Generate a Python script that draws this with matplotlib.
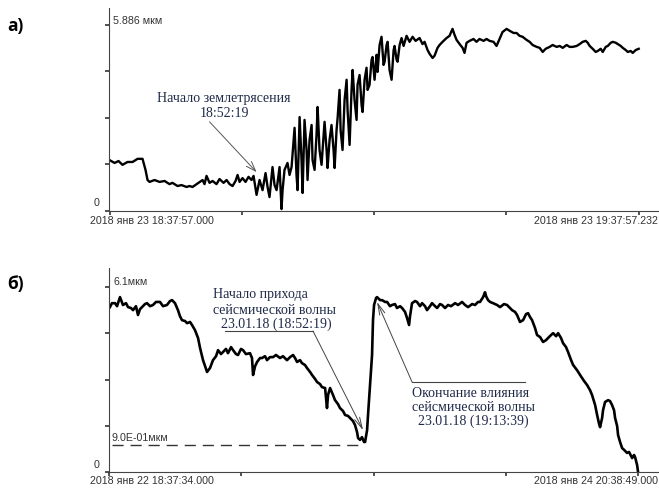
import matplotlib
matplotlib.use("Agg")
import matplotlib.pyplot as plt

plt.rcParams['font.family'] = ['Liberation Sans', 'DejaVu Sans']

# panel a: minutes from 2018-01-23 18:37:57, amplitude in mkm
t_a = [0.00, 0.57, 1.02, 1.47, 2.04, 2.61, 3.18, 3.74, 4.08, 4.31, 4.54, 5.10, 5.67, 6.24, 6.80,
       7.14, 7.71, 8.16, 8.73, 9.07, 9.41, 9.87, 10.21, 10.55, 10.77, 11.00, 11.34, 11.68, 12.13,
       12.47, 12.93, 13.27, 13.61, 13.95, 14.29, 14.52, 14.74, 15.08, 15.42, 15.76, 16.10, 16.33,
       16.67, 17.01, 17.35, 17.69, 17.92, 18.14, 18.48, 18.71, 18.94, 19.28, 19.50, 19.62, 19.84,
       20.18, 20.41, 20.64, 20.98, 21.20, 21.32, 21.55, 21.77, 21.89, 22.11, 22.34, 22.45, 22.68,
       22.91, 23.02, 23.25, 23.47, 23.59, 23.81, 24.04, 24.27, 24.38, 24.61, 24.72, 24.95, 25.17,
       25.40, 25.52, 25.74, 25.86, 26.08, 26.20, 26.42, 26.65, 26.88, 26.99, 27.22, 27.44, 27.56,
       27.78, 28.01, 28.12, 28.35, 28.58, 28.69, 28.92, 29.14, 29.26, 29.48, 29.71, 29.82, 30.05,
       30.28, 30.39, 30.62, 30.84, 31.07, 31.19, 31.41, 31.53, 31.75, 31.98, 32.21, 32.32, 32.55,
       32.66, 32.89, 33.11, 33.34, 33.68, 34.02, 34.36, 34.70, 35.15, 35.49, 35.72, 36.06, 36.29,
       36.63, 36.85, 37.19, 37.42, 37.76, 38.21, 38.55, 38.89, 39.12, 39.35, 39.69, 40.03, 40.25,
       40.48, 40.82, 41.27, 41.61, 41.95, 42.41, 42.75, 43.09, 43.54, 43.88, 44.22, 44.56, 45.02,
       45.36, 45.81, 46.15, 46.49, 46.83, 47.29, 47.63, 47.97, 48.43, 48.77, 49.11, 49.45, 49.90,
       50.24, 50.70, 51.04, 51.38, 51.83, 52.17, 52.51, 52.97, 53.31, 53.65, 53.99, 54.22, 54.44,
       54.78, 55.12, 55.35, 55.69, 55.92, 56.26, 56.49, 56.83, 57.06, 57.40, 57.62, 57.96, 58.19,
       58.53, 58.76, 59.09, 59.32, 59.66, 60.00]
v_a = [1.61, 1.52, 1.58, 1.46, 1.55, 1.55, 1.65, 1.65, 1.30, 0.98, 0.92, 0.98, 0.92, 0.95, 0.85,
       0.89, 0.79, 0.82, 0.76, 0.79, 0.76, 0.85, 0.92, 0.98, 0.85, 1.11, 0.89, 0.95, 0.85,
       1.01, 0.89, 0.98, 0.85, 0.79, 0.95, 1.14, 0.92, 1.04, 0.92, 1.08, 0.98, 1.11,
       0.51, 0.98, 0.66, 1.20, 0.76, 0.44, 1.39, 0.82, 0.66, 1.39, 0.06, 0.66, 1.30,
       1.52, 1.14, 1.39, 2.63, 1.14, 0.66, 2.97, 1.61, 0.57, 2.88, 1.93, 0.98, 2.25,
       2.72, 1.61, 1.30, 2.41, 3.29, 1.93, 1.46, 2.41, 2.82, 1.93, 1.36, 2.25, 2.72,
       1.93, 1.36, 2.56, 2.94, 3.83, 2.56, 1.93, 3.51, 4.15, 3.20, 2.09, 3.83, 4.46,
       3.51, 2.88, 3.99, 4.30, 3.35, 3.13, 4.15, 4.53, 3.83, 3.99, 4.78, 4.87, 4.15,
       4.94, 4.40, 5.25, 5.51, 4.62, 4.72, 5.25, 5.35, 4.46, 4.15, 5.09, 5.22, 4.78,
       4.72, 5.25, 5.47, 5.22, 5.54, 5.35, 5.51, 5.38, 5.47, 5.28, 5.35, 5.09, 4.97,
       4.84, 4.91, 5.16, 5.25, 5.35, 5.47, 5.54, 5.76, 5.57, 5.41, 5.28, 5.16, 5.00,
       5.32, 5.38, 5.44, 5.35, 5.44, 5.38, 5.44, 5.38, 5.35, 5.22, 5.44, 5.66, 5.76,
       5.70, 5.63, 5.63, 5.54, 5.51, 5.41, 5.35, 5.25, 5.19, 5.16, 5.03, 5.13, 5.19,
       5.25, 5.19, 5.22, 5.16, 5.25, 5.19, 5.19, 5.22, 5.28, 5.35, 5.38, 5.32, 5.22,
       5.13, 5.03, 5.06, 5.13, 5.03, 5.19, 5.22, 5.32, 5.35, 5.32, 5.28, 5.22, 5.16,
       5.09, 5.03, 5.06, 5.00, 5.09, 5.13]

# panel b: hours from 2018-01-22 18:37:34, amplitude in mkm
t_b = [0.09, 0.28, 0.57, 0.76, 1.04, 1.32, 1.61, 1.80, 2.08, 2.27, 2.55, 2.74, 2.93, 3.12, 3.40,
       3.59, 3.88, 4.16, 4.44, 4.82, 5.11, 5.48, 5.77, 5.96, 6.24, 6.52, 6.71, 6.90, 7.19, 7.38,
       7.66, 7.85, 8.13, 8.42, 8.61, 8.89, 9.08, 9.27, 9.55, 9.83, 10.12, 10.31, 10.59, 10.78,
       11.06, 11.25, 11.54, 11.73, 12.01, 12.20, 12.48, 12.67, 12.95, 13.33, 13.52, 13.62, 13.81,
       14.00, 14.28, 14.47, 14.75, 14.94, 15.22, 15.51, 15.79, 16.17, 16.45, 16.83, 17.12, 17.40,
       17.59, 17.78, 18.06, 18.25, 18.53, 18.72, 19.01, 19.20, 19.48, 19.67, 19.95, 20.14, 20.43,
       20.61, 20.71, 20.90, 21.18, 21.37, 21.65, 21.84, 22.13, 22.32, 22.60, 22.79, 23.07, 23.26,
       23.45, 23.55, 23.73, 23.92, 24.11, 24.21, 24.40, 24.49, 24.68, 24.87, 24.96, 25.06, 25.25,
       25.34, 25.63, 25.82, 26.10, 26.29, 26.57, 26.76, 27.04, 27.23, 27.52, 27.71, 27.99, 28.18,
       28.37, 28.46, 28.65, 28.94, 29.12, 29.41, 29.60, 29.88, 30.07, 30.35, 30.54, 30.83, 31.02,
       31.30, 31.49, 31.77, 32.06, 32.34, 32.72, 33.00, 33.38, 33.66, 33.95, 34.33, 34.61, 34.89,
       35.08, 35.37, 35.55, 35.65, 35.84, 36.03, 36.31, 36.69, 36.97, 37.35, 37.63, 37.92, 38.11,
       38.39, 38.58, 38.86, 39.15, 39.43, 39.62, 39.81, 40.00, 40.28, 40.47, 40.76, 41.04, 41.32,
       41.51, 41.80, 41.99, 42.27, 42.46, 42.74, 42.93, 43.21, 43.40, 43.69, 43.88, 44.25, 44.54,
       44.92, 45.20, 45.48, 45.67, 45.96, 46.15, 46.34, 46.43, 46.62, 46.71, 46.90, 47.19, 47.37,
       47.56, 47.75, 47.85, 48.04, 48.13, 48.32, 48.51, 48.70, 48.98, 49.17, 49.46, 49.64, 49.74,
       49.93, 50.02]
v_b = [5.44, 5.57, 5.57, 5.47, 5.77, 5.51, 5.57, 5.44, 5.41, 5.34, 5.47, 5.18, 5.37, 5.44, 5.54,
       5.57, 5.47, 5.51, 5.61, 5.61, 5.47, 5.51, 5.64, 5.67, 5.57, 5.34, 5.14, 5.01, 4.98, 4.91,
       4.95, 4.85, 4.68, 4.42, 4.09, 3.69, 3.49, 3.30, 3.43, 3.69, 3.82, 4.02, 3.89, 3.96,
       4.06, 3.92, 4.12, 4.02, 3.89, 3.86, 4.06, 4.02, 3.89, 3.92, 3.76, 3.20, 3.49,
       3.63, 3.76, 3.76, 3.82, 3.69, 3.79, 3.79, 3.86, 3.76, 3.82, 3.69, 3.79, 3.86,
       3.76, 3.63, 3.69, 3.59, 3.53, 3.43, 3.30, 3.20, 3.07, 2.97, 2.90, 2.80, 2.77,
       2.11, 2.54, 2.77, 2.54, 2.37, 2.24, 2.11, 2.01, 1.88, 1.85, 1.78, 1.68, 1.55,
       1.32, 1.12, 1.06, 1.15, 0.99, 0.99, 1.38, 1.88, 2.87, 3.86, 5.01, 5.51, 5.74,
       5.77, 5.67, 5.67, 5.61, 5.61, 5.47, 5.51, 5.54, 5.41, 5.47, 5.41, 5.28, 5.08,
       4.85, 5.14, 5.57, 5.64, 5.61, 5.47, 5.57, 5.47, 5.34, 5.47, 5.57, 5.47, 5.41,
       5.54, 5.51, 5.41, 5.51, 5.47, 5.57, 5.51, 5.61, 5.51, 5.44, 5.54, 5.51, 5.61,
       5.61, 5.77, 5.93, 5.80, 5.67, 5.61, 5.57, 5.51, 5.44, 5.54, 5.51, 5.41, 5.34,
       5.28, 5.18, 4.95, 5.01, 5.21, 5.24, 5.11, 5.01, 4.75, 4.52, 4.45, 4.29, 4.35,
       4.42, 4.52, 4.58, 4.48, 4.58, 4.42, 4.25, 4.12, 3.96, 3.69, 3.53, 3.36, 3.20,
       3.00, 2.87, 2.70, 2.54, 2.21, 1.88, 1.58, 1.48, 1.78, 2.04, 2.31, 2.37, 2.34,
       2.21, 2.04, 1.78, 1.52, 1.22, 0.99, 0.79, 0.73, 0.63, 0.66, 0.46, 0.56, 0.49,
       0.23, 0.00]

top_a = 5.886
top_b = 6.1
thr_b = 0.9
span_b = 50.02

navy = '#1f2a48'
grey = '#333333'
W, H = 659, 492
small = 7.7
note = 10

fig = plt.figure(figsize=(6.59, 4.92), dpi=100)
ax1 = fig.add_axes([109 / W, 1 - 211 / H, 550 / W, 203 / H])
ax2 = fig.add_axes([109 / W, 1 - 472 / H, 550 / W, 204 / H])

for ax in (ax1, ax2):
    ax.spines['top'].set_visible(False)
    ax.spines['right'].set_visible(False)
    ax.spines['left'].set_color('#444444')
    ax.spines['bottom'].set_color('#444444')
    ax.tick_params(length=3, width=1.2, color=grey, labelleft=False, labelbottom=False)

# --- panel a
ax1.plot(t_a, v_a, color='black', linewidth=1.7)
ax1.set_xlim(-0.06, 62.3)
ax1.set_ylim(0, 6.42)
ax1.set_xticks([0, 15, 30, 45, 60])
ax1.set_yticks([0, top_a / 4, top_a / 2, top_a * 3 / 4, top_a])
ax1.annotate('5.886 мкм', xy=(0, top_a), xycoords=('axes fraction', 'data'),
             xytext=(4, 4), textcoords='offset pixels', fontsize=small, color=grey,
             va='center', ha='left')
ax1.annotate('0', xy=(0, 0), xycoords=('axes fraction', 'data'),
             xytext=(-12, 8), textcoords='offset pixels', fontsize=small, color=grey,
             va='center', ha='center')
ax1.text(13.0, 3.33, 'Начало землетрясения\n18:52:19', fontsize=note,
         family='Liberation Serif', color=navy, ha='center', va='center', linespacing=1.2)
ax1.annotate('', xy=(16.67, 1.23), xytext=(11.34, 2.82),
             arrowprops=dict(arrowstyle='->,head_length=0.7,head_width=0.25', color='#555555',
                             lw=0.7, shrinkA=0, shrinkB=0))

# --- panel b
ax2.plot(t_b, v_b, color='black', linewidth=1.9)
ax2.plot([0.28, 23.73], [thr_b, thr_b], color=grey, linewidth=1.0, dashes=(8, 5))
ax2.set_xlim(0, 52.0)
ax2.set_ylim(0, 6.73)
ax2.set_xticks([0, span_b / 4, span_b / 2, span_b * 3 / 4, span_b])
ax2.set_yticks([0, top_b / 4, top_b / 2, top_b * 3 / 4, top_b])
ax2.annotate('6.1мкм', xy=(0, top_b), xycoords=('axes fraction', 'data'),
             xytext=(4, 5), textcoords='offset pixels', fontsize=small, color=grey,
             va='center', ha='left')
ax2.annotate('0', xy=(0, 0), xycoords=('axes fraction', 'data'),
             xytext=(-12, 7), textcoords='offset pixels', fontsize=small, color=grey,
             va='center', ha='center')
ax2.annotate('9.0E-01мкм', xy=(0.28, thr_b), xytext=(0, 2), textcoords='offset pixels',
             fontsize=small, color=grey, va='bottom', ha='left')

# first note: start of the seismic wave
ax2.text(9.83, 5.84, 'Начало прихода', fontsize=note, family='Liberation Serif', color=navy,
         va='center', ha='left')
ax2.text(9.83, 5.34, 'сейсмической волны', fontsize=note, family='Liberation Serif', color=navy,
         va='center', ha='left')
ax2.text(10.6, 4.88, '23.01.18 (18:52:19)', fontsize=note, family='Liberation Serif', color=navy,
         va='center', ha='left')
ax2.plot([10.97, 19.29], [4.65, 4.65], color='#444444', linewidth=0.8)
ax2.annotate('', xy=(24.02, 1.38), xytext=(19.29, 4.65),
             arrowprops=dict(arrowstyle='->,head_length=0.8,head_width=0.2', color='#444444',
                             lw=0.7, shrinkA=0, shrinkB=0))

# second note: end of the wave influence
ax2.text(28.65, 2.60, 'Окончание влияния', fontsize=note, family='Liberation Serif', color=navy,
         va='center', ha='left')
ax2.text(28.65, 2.14, 'сейсмической волны', fontsize=note, family='Liberation Serif', color=navy,
         va='center', ha='left')
ax2.text(29.22, 1.68, '23.01.18 (19:13:39)', fontsize=note, family='Liberation Serif', color=navy,
         va='center', ha='left')
ax2.plot([28.65, 39.34], [2.97, 2.97], color='#444444', linewidth=0.8)
ax2.annotate('', xy=(25.34, 5.61), xytext=(28.65, 2.97),
             arrowprops=dict(arrowstyle='->,head_length=0.8,head_width=0.2', color='#444444',
                             lw=0.7, shrinkA=0, shrinkB=0))

# date labels under the axes
fig.text(90 / W, 1 - 216 / H, '2018 янв 23 18:37:57.000', fontsize=small, color=grey,
         ha='left', va='top')
fig.text(658 / W, 1 - 216 / H, '2018 янв 23 19:37:57.232', fontsize=small, color=grey,
         ha='right', va='top')
fig.text(90 / W, 1 - 476 / H, '2018 янв 22 18:37:34.000', fontsize=small, color=grey,
         ha='left', va='top')
fig.text(658 / W, 1 - 476 / H, '2018 янв 24 20:38:49.000', fontsize=small, color=grey,
         ha='right', va='top')

# panel letters
fig.text(7 / W, 1 - 26 / H, 'а)', fontsize=12.5, fontweight='bold', family='Open Sans',
         ha='left', va='center')
fig.text(7 / W, 1 - 284 / H, 'б)', fontsize=12.5, fontweight='bold', family='Open Sans',
         ha='left', va='center')

fig.savefig('out.png', dpi=100)
